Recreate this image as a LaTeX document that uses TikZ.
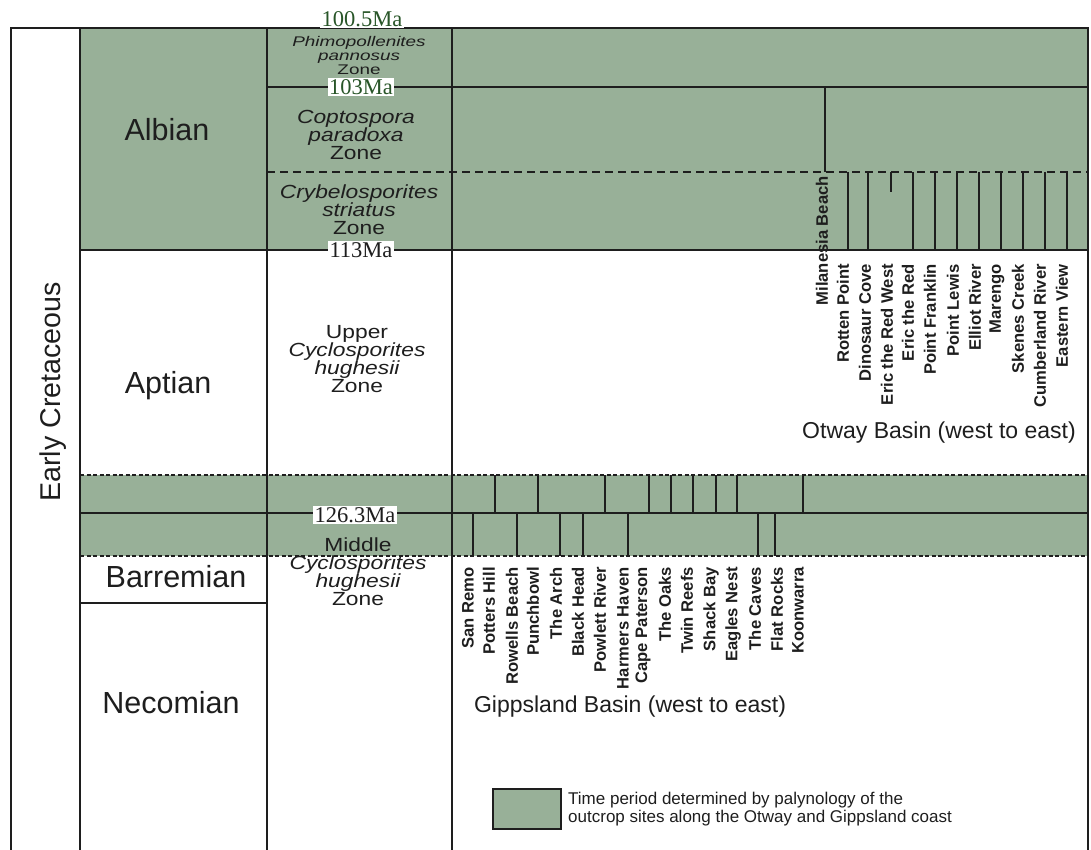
\documentclass[tikz,border=0pt]{standalone}
\usepackage{fontspec}
\setmainfont{Liberation Sans}
\newfontfamily\zonefont[FakeStretch=1.2]{Liberation Sans}
\newfontfamily\phimfont[FakeStretch=1.35]{Liberation Sans}
\newfontfamily\mafont{Liberation Serif}
\definecolor{sage}{RGB}{152,176,152}
\definecolor{ink}{RGB}{30,30,30}
\definecolor{magreen}{RGB}{40,85,40}
\begin{document}
\begin{tikzpicture}[x=1pt,y=-1pt,
  frame/.style={line width=1.8pt, draw=ink},
  otdash/.style={line width=1.8pt, draw=ink, dash pattern=on 8pt off 5pt},
  gipdash/.style={line width=1.5pt, draw=ink, dash pattern=on 4pt off 2.5pt},
  sitetick/.style={line width=1.8pt, draw=ink},
  sitelabel/.style={rotate=90, anchor=east, inner sep=0pt, text=ink,
    font=\bfseries\fontsize{16.6}{18}\selectfont},
  stage/.style={text=ink, inner sep=0pt, font=\fontsize{30.5}{32}\selectfont},
  malabel/.style={fill=white, inner sep=1.5pt, font=\mafont\fontsize{22.5}{24}\selectfont},
  zone/.style={align=center, inner sep=0pt, text=ink, font=\zonefont\fontsize{19}{18}\selectfont},
  phim/.style={align=center, inner sep=0pt, text=ink, font=\phimfont\fontsize{14}{14}\selectfont},
  basin/.style={text=ink, inner sep=0pt, font=\fontsize{23}{25}\selectfont},
  legendtext/.style={align=left, anchor=west, inner sep=0pt, text=ink, font=\fontsize{17}{18}\selectfont}
]
\useasboundingbox (0,0) rectangle (1091,850);
% green fills
\fill[sage] (80,28) rectangle (1088,250);
\fill[sage] (80,475) rectangle (1088,556);
% frame
\draw[frame] (11,850) -- (11,28) -- (1088,28) -- (1088,850);
\foreach \x in {80,267,452} \draw[frame] (\x,28) -- (\x,850);
% horizontal lines
\draw[frame] (267,87) -- (1088,87);
\draw[otdash] (267,172) -- (1088,172);
\draw[frame] (80,250) -- (1088,250);
\draw[gipdash] (80,475) -- (1088,475);
\draw[frame] (80,513) -- (1088,513);
\draw[gipdash] (80,556) -- (1088,556);
\draw[frame] (80,603) -- (267,603);
% Otway ticks
\draw[sitetick] (825,87) -- (825,172);
\foreach \x in {848,868,913,935,957,979,1001,1023,1045,1067}
  \draw[sitetick] (\x,172) -- (\x,250);
\draw[sitetick] (891,172) -- (891,192);
% Gippsland ticks
\foreach \x in {495,538,605,649,671,693,716,737,803}
  \draw[sitetick] (\x,475) -- (\x,513);
\foreach \x in {473,517,560,583,628,758,775}
  \draw[sitetick] (\x,513) -- (\x,556);
% column labels
\node[rotate=90, anchor=base, inner sep=0pt, text=ink, font=\fontsize{28.6}{30}\selectfont] (ec) at (60,392) {Early Cretaceous};
\node[stage] (albian) at (167,130) {Albian};
\node[stage] (aptian) at (168,386) {Aptian};
\node[stage] (barremian) at (176,577) {Barremian};
\node[stage] (necomian) at (171,703) {Necomian};
% zones
\node[phim] (zphim) at (359,55) {\itshape Phimopollenites\\ \itshape pannosus\\ Zone};
\node[zone] (zcopt) at (356,135) {\itshape Coptospora\\ \itshape paradoxa\\ Zone};
\node[zone] (zcryb) at (359,210) {\itshape Crybelosporites\\ \itshape striatus\\ Zone};
\node[zone] (zupper) at (357,359) {Upper\\ \itshape Cyclosporites\\ \itshape hughesii\\ Zone};
\node[zone] (zmiddle) at (358,572) {Middle\\ \itshape Cyclosporites\\ \itshape hughesii\\ Zone};
% Ma labels
\node[malabel, text=magreen] (ma1005) at (362,19) {100.5Ma};
\node[malabel, text=magreen] (ma103) at (361,87) {103Ma};
\node[malabel, text=ink] (ma113) at (361,250) {113Ma};
\node[malabel, text=ink] (ma1263) at (355,515) {126.3Ma};
% Otway sites
\node[sitelabel] (omil) at (822,176) {Milanesia Beach};
\foreach \x/\t [count=\i] in {843/Rotten Point, 865/Dinosaur Cove, 887/Eric the Red West,
  908/Eric the Red, 930/Point Franklin, 953/Point Lewis, 975/Elliot River,
  997/Marengo, 1018/Skenes Creek, 1040/Cumberland River, 1062/Eastern View}
  \node[sitelabel] (o\i) at (\x,264) {\t};
% Gippsland sites
\foreach \x/\t [count=\i] in {468/San Remo, 489/Potters Hill, 512/Rowells Beach,
  533/Punchbowl, 556/The Arch, 578/Black Head, 600/Powlett River, 623/Harmers Haven,
  643/Cape Paterson, 665/The Oaks, 687/Twin Reefs, 711/Shack Bay, 733/Eagles Nest,
  755/The Caves, 777/Flat Rocks, 798/Koonwarra}
  \node[sitelabel] (g\i) at (\x,567) {\t};
% basin titles
\node[basin] (otway) at (939,433) {Otway Basin (west to east)};
\node[basin] (gipps) at (630,707) {Gippsland Basin (west to east)};
% legend
\node[draw=ink, line width=2pt, fill=sage, minimum width=68pt, minimum height=40pt, inner sep=0pt] (legbox) at (527,809) {};
\node[legendtext] (legtext) at (568,809) {Time period determined by palynology of the\\outcrop sites along the Otway and Gippsland coast};
\end{tikzpicture}
\end{document}
